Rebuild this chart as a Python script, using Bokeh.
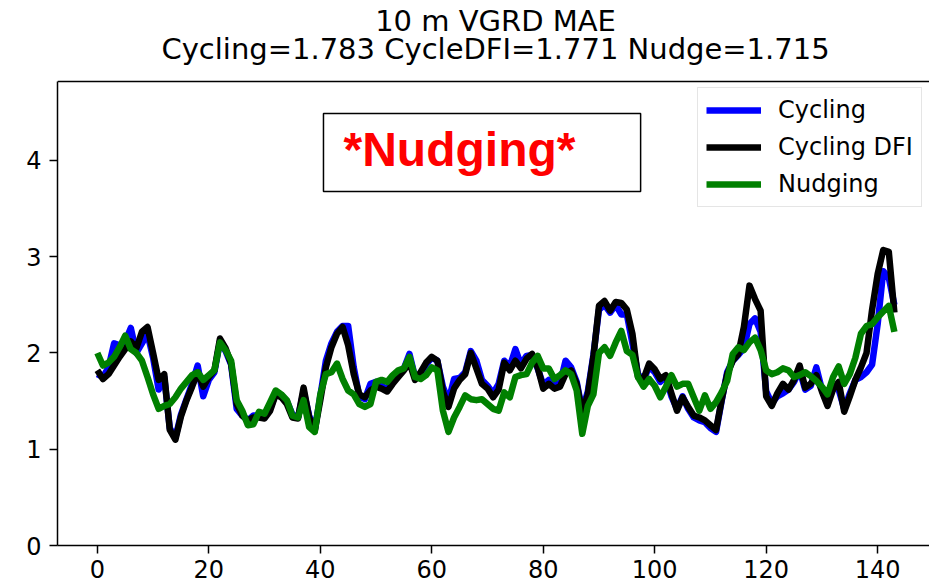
from bokeh.plotting import figure
from bokeh.models import (Range1d, FixedTicker, Span,
                          Legend, LegendItem, Label, BoxAnnotation)
from bokeh.embed import file_html
from bokeh.resources import INLINE

# ---------------- data ----------------
steps = list(range(144))

cycling = [1.78, 1.75, 1.85, 2.10, 2.08, 2.12, 2.26, 2.00, 2.10, 2.20,
           1.95, 1.62, 1.75, 1.22, 1.12, 1.36, 1.52, 1.68, 1.87, 1.55,
           1.72, 1.80, 2.12, 2.02, 1.88, 1.42, 1.35, 1.30, 1.35, 1.35,
           1.33, 1.42, 1.58, 1.56, 1.50, 1.36, 1.33, 1.60, 1.35, 1.20,
           1.55, 1.92, 2.10, 2.22, 2.28, 2.28, 1.85, 1.55, 1.52, 1.68,
           1.70, 1.66, 1.62, 1.72, 1.78, 1.84, 1.99, 1.75, 1.78, 1.88,
           1.95, 1.92, 1.65, 1.50, 1.73, 1.74, 1.80, 2.02, 1.92, 1.72,
           1.66, 1.58, 1.68, 1.92, 1.86, 2.04, 1.88, 1.97, 1.98, 1.84,
           1.67, 1.72, 1.67, 1.68, 1.92, 1.85, 1.70, 1.40, 1.60, 1.98,
           2.45, 2.50, 2.42, 2.50, 2.40, 2.40, 2.10, 1.78, 1.72, 1.86,
           1.80, 1.70, 1.75, 1.55, 1.42, 1.55, 1.42, 1.33, 1.30, 1.28,
           1.22, 1.18, 1.50, 1.80, 1.92, 1.98, 2.05, 2.30, 2.36, 2.22,
           1.60, 1.48, 1.55, 1.58, 1.62, 1.70, 1.82, 1.62, 1.66, 1.85,
           1.62, 1.48, 1.65, 1.62, 1.42, 1.58, 1.72, 1.75, 1.80, 1.88,
           2.30, 2.85, 2.78, 2.50]

cycling_dfi = [1.82, 1.73, 1.78, 1.87, 1.96, 2.04, 2.12, 2.05, 2.22, 2.27,
               2.00, 1.72, 1.78, 1.20, 1.10, 1.34, 1.51, 1.65, 1.80, 1.65,
               1.75, 1.82, 2.15, 2.05, 1.89, 1.47, 1.35, 1.30, 1.33, 1.33,
               1.32, 1.40, 1.57, 1.54, 1.47, 1.33, 1.32, 1.64, 1.33, 1.19,
               1.51, 1.85, 2.06, 2.20, 2.27, 2.08, 1.78, 1.57, 1.54, 1.61,
               1.65, 1.63, 1.60, 1.68, 1.75, 1.82, 1.90, 1.72, 1.80, 1.90,
               1.96, 1.92, 1.60, 1.44, 1.63, 1.72, 1.78, 2.00, 1.84, 1.68,
               1.63, 1.54, 1.62, 1.90, 1.82, 1.92, 1.84, 1.94, 1.99, 1.85,
               1.63, 1.68, 1.63, 1.65, 1.78, 1.82, 1.68, 1.38, 1.57, 1.96,
               2.49, 2.54, 2.44, 2.53, 2.52, 2.45, 2.20, 1.75, 1.73, 1.89,
               1.83, 1.73, 1.77, 1.58, 1.40, 1.54, 1.44, 1.35, 1.33, 1.30,
               1.25, 1.20, 1.51, 1.78, 1.92, 1.99, 2.27, 2.70, 2.56, 2.44,
               1.55, 1.45, 1.58, 1.68, 1.62, 1.72, 1.87, 1.64, 1.68, 1.77,
               1.60, 1.45, 1.62, 1.70, 1.39, 1.55, 1.72, 1.85, 2.00, 2.45,
               2.82, 3.07, 3.05, 2.42]

nudging = [2.00, 1.87, 1.90, 1.96, 2.06, 2.18, 2.04, 2.00, 1.92, 1.75,
           1.57, 1.42, 1.45, 1.47, 1.54, 1.63, 1.70, 1.77, 1.80, 1.72,
           1.77, 1.82, 2.11, 2.03, 1.92, 1.51, 1.40, 1.25, 1.26, 1.39,
           1.37, 1.49, 1.61, 1.57, 1.51, 1.35, 1.33, 1.51, 1.23, 1.18,
           1.57, 1.78, 1.80, 1.89, 1.73, 1.61, 1.57, 1.47, 1.44, 1.47,
           1.70, 1.72, 1.70, 1.77, 1.82, 1.84, 1.96, 1.75, 1.73, 1.77,
           1.85, 1.82, 1.40, 1.18, 1.33, 1.44, 1.56, 1.52, 1.51, 1.52,
           1.47, 1.42, 1.40, 1.59, 1.54, 1.75, 1.77, 1.78, 1.90, 1.97,
           1.84, 1.84, 1.73, 1.77, 1.82, 1.78, 1.61, 1.16, 1.45, 1.57,
           2.00, 2.06, 1.97, 2.11, 2.23, 2.02, 1.98, 1.75, 1.65, 1.73,
           1.66, 1.54, 1.65, 1.77, 1.65, 1.68, 1.68, 1.54, 1.40, 1.56,
           1.42, 1.49, 1.59, 1.71, 1.99, 2.06, 2.03, 2.11, 2.16, 2.03,
           1.82, 1.78, 1.80, 1.84, 1.82, 1.75, 1.77, 1.80, 1.76, 1.71,
           1.65, 1.57, 1.75, 1.86, 1.68, 1.78, 1.95, 2.20, 2.28, 2.30,
           2.37, 2.43, 2.49, 2.22]

series_names = ["Cycling", "Cycling DFI", "Nudging"]
series_colors = ["#0000ff", "#000000", "#008000"]
title_lines = ["10 m VGRD MAE", "Cycling=1.783 CycleDFI=1.771 Nudge=1.715"]
x_ticks = [0, 20, 40, 60, 80, 100, 120, 140]
y_ticks = [0, 1, 2, 3, 4]
y_top = 4.82   # upper limit of the axes box

FONT = "DejaVu Sans"

# frame extends to the page top; the axes box ends at y_top (top spine)
p = figure(width=929, height=584, output_backend="svg", toolbar_location=None,
           x_range=Range1d(-7.15, 149.3), y_range=Range1d(0, 5.662),
           min_border_left=57, min_border_right=0, min_border_top=0,
           min_border_bottom=39, title=None)
p.background_fill_color = "white"
p.border_fill_color = "white"
p.outline_line_color = None
p.xgrid.visible = False
p.ygrid.visible = False

# axes
for ax in p.xaxis + p.yaxis:
    ax.axis_line_color = "black"
    ax.axis_line_width = 1.5
    ax.major_tick_line_color = "black"
    ax.major_tick_line_width = 1.5
    ax.major_tick_in = 0
    ax.major_tick_out = 8
    ax.minor_tick_line_color = None
    ax.major_label_text_font = FONT
    ax.major_label_text_color = "black"
    ax.major_label_text_font_size = "24px"

p.xaxis.ticker = FixedTicker(ticks=x_ticks)
p.xaxis.major_label_standoff = 6
p.yaxis.ticker = FixedTicker(ticks=y_ticks)
p.yaxis.major_label_standoff = 8
p.yaxis.bounds = (0, y_top)

# top spine
p.add_layout(Span(location=y_top, dimension="width", line_color="black",
                  line_width=1.5))

# title (two centred lines)
for txt, ty in zip(title_lines, [5.449, 5.158]):
    p.add_layout(Label(x=71.44, y=ty, text=txt, text_align="center",
                       text_baseline="middle", text_font=FONT,
                       text_font_size="29px", text_color="black"))

# annotation box
box = BoxAnnotation(left=40.57, right=97.47, bottom=3.678, top=4.488,
                    fill_color="white", fill_alpha=1.0,
                    line_color="black", line_alpha=1.0, line_width=1.5)
p.add_layout(box)
p.add_layout(Label(x=44.16, y=4.117, text="*Nudging*", text_color="#ff0000",
                   text_font="Liberation Sans", text_font_style="bold",
                   text_font_size="48px", text_baseline="alphabetic"))

# lines
renderers = []
for vals, color in zip([cycling, cycling_dfi, nudging], series_colors):
    r = p.line(steps, vals, line_color=color, line_width=6.5, line_join="round")
    renderers.append(r)

legend = Legend(items=[LegendItem(label=n, renderers=[r])
                       for n, r in zip(series_names, renderers)],
                location=(640, 338), label_text_font=FONT,
                label_text_font_size="24px", label_text_color="black",
                label_standoff=17, glyph_width=55, glyph_height=28,
                label_height=28, spacing=9, padding=8, margin=0,
                border_line_color="#cccccc", border_line_width=1.5,
                background_fill_alpha=0.8)
p.add_layout(legend)

open("out.html", "w").write(file_html(p, INLINE))
